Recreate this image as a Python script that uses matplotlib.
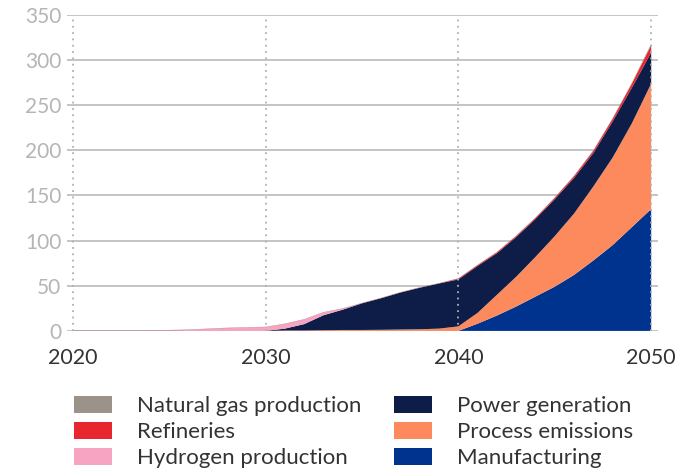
import numpy as np
import matplotlib
matplotlib.use("Agg")
import matplotlib.pyplot as plt
from matplotlib.patches import Patch

plt.rcParams['font.family'] = ['Lato', 'DejaVu Sans']

# Emissions by source, 2020-2050 (annual)
years = list(range(2020, 2051))

manufacturing = [0] * 20 + [0, 8, 17, 27, 38, 49, 62, 78, 95, 115, 135]
process = [0] * 11 + [0.5, 0.5, 0.8, 1, 1, 1.2, 1.5, 1.8, 2.5,
                      5, 12, 23, 33, 44, 56, 68, 82, 97, 115, 139]
power = [0] * 11 + [2, 7, 16.5, 22.5, 29.5, 35, 41, 46, 50,
                    52, 52, 46, 44, 42, 41, 39.5, 37, 40, 39.5, 34.5]
hydrogen = [0] * 5 + [0.5, 1, 2, 3, 3.5, 4, 5, 5, 3, 1] + [0] * 16
refineries = [0.2] * 20 + [1, 1, 1.2, 1.2, 1.3, 1.5, 2, 2.5, 3, 4.5, 8]
natural_gas = [0.3] * 20 + [0.3, 0.3, 0.4, 0.4, 0.5, 0.5, 0.6, 0.7, 0.8, 1, 1.5]

labels = ["Manufacturing", "Process emissions", "Power generation",
          "Hydrogen production", "Refineries", "Natural gas production"]
colors = ["#00338d", "#fd8a5c", "#0e1d48", "#f7a3c2", "#e8262f", "#9b928a"]

fig = plt.figure(figsize=(6.75, 4.68), dpi=100)
ax = fig.add_axes([0.099, 0.293, 0.876, 0.675])

ax.stackplot(years, manufacturing, process, power, hydrogen, refineries,
             natural_gas, colors=colors, linewidth=0)

ax.set_xlim(2019.69, 2050.36)
ax.set_ylim(0, 350)

ax.set_yticks(range(0, 351, 50))
ax.set_xticks([2020, 2030, 2040, 2050])
for y in range(0, 351, 50):
    ax.axhline(y, color="#c4c4c4", linewidth=1.4, zorder=0)
for x in [2020, 2030, 2040, 2050]:
    ax.axvline(x, color="#b0b0b0", linewidth=1.3, linestyle=(0, (1, 2.5)), zorder=3)

for s in ax.spines.values():
    s.set_visible(False)
ax.tick_params(axis="both", length=0)
ax.tick_params(axis="y", labelsize=15, labelcolor="#b5b5b5", pad=4)
ax.tick_params(axis="x", labelsize=15.5, labelcolor="#333333", pad=12)

handles = [Patch(facecolor=c, label=l) for c, l in zip(colors, labels)]
order = [5, 4, 3, 2, 1, 0]
leg = fig.legend([handles[i] for i in order], [labels[i] for i in order],
                 ncol=2, loc="upper left", bbox_to_anchor=(0.093, 0.178),
                 frameon=False, fontsize=16, handlelength=1.7,
                 handleheight=0.8, handletextpad=1.15, columnspacing=1.45,
                 labelspacing=0.27, borderpad=0)
for t in leg.get_texts():
    t.set_color("#333333")

fig.savefig("out.png", dpi=100)
